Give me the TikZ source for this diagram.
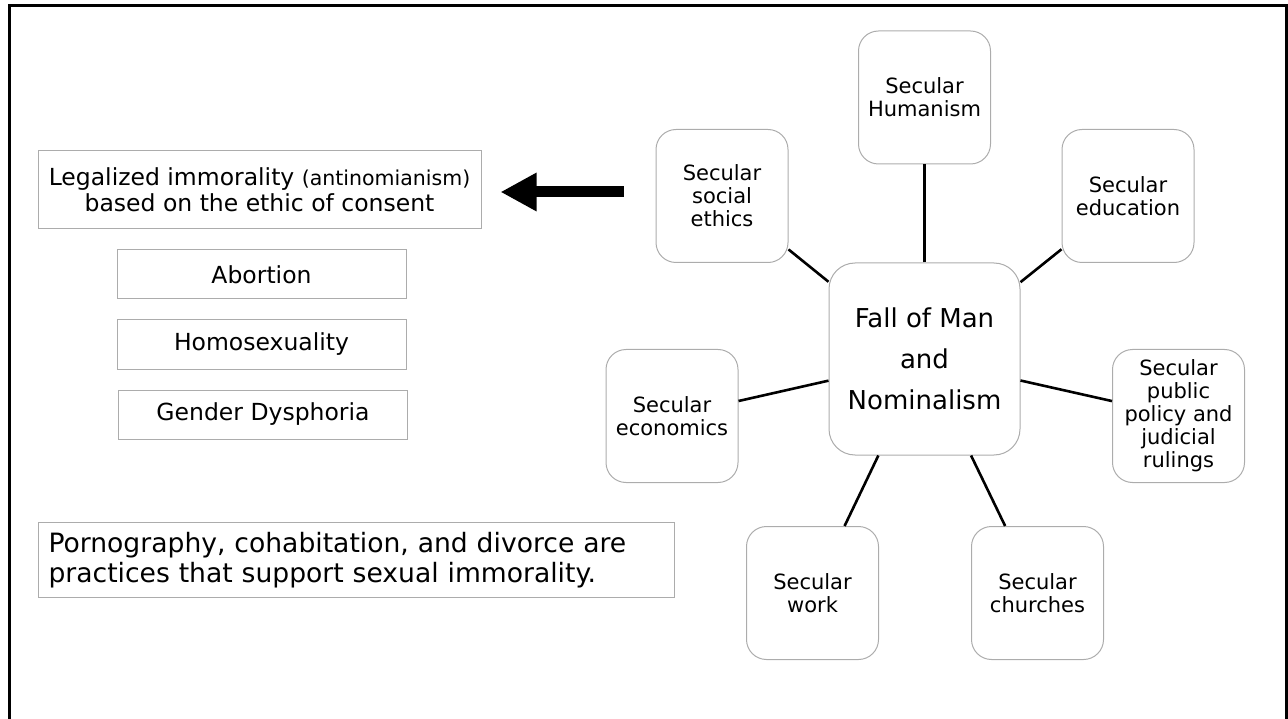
\documentclass[tikz,border=0pt]{standalone}
\usepackage{fontspec}
\setmainfont{DejaVu Sans}
\usetikzlibrary{arrows.meta,positioning}

\begin{document}
\begin{tikzpicture}[
    x=1pt, y=-1pt,
    issue/.style={draw=gray!65, line width=1pt, minimum width=289pt, minimum height=49pt, inner sep=0pt, align=center, font=\fontsize{23.5}{26}\selectfont},
    secular/.style={draw=gray!65, line width=1pt, rounded corners=20pt, minimum width=132pt, minimum height=133pt, inner sep=0pt, align=center, font=\fontsize{21}{23}\selectfont},
    link/.style={line width=2.6pt},
    bigarrow/.style={line width=11pt, -{Triangle[length=36pt,width=36pt]}}
]

\useasboundingbox (0,0) rectangle (1288,719);
% page frame, open at the bottom
\draw[line width=3pt] (9,719) -- (9,6) -- (1286,6) -- (1286,719);

% left column
\node[issue, minimum width=443pt, minimum height=78pt] (legal) at (259.5,190)
    {Legalized immorality {\fontsize{20.5}{26}\selectfont(antinomianism)}\\based on the ethic of consent};
\node[issue, below=20pt of legal, xshift=2pt] (abort) {Abortion};
\node[issue, below=20pt of abort] (homo) {Homosexuality};
\node[issue, below=20pt of homo, xshift=1.5pt] (gender) {Gender Dysphoria};

\node[draw=gray!65, line width=1pt, anchor=north west, minimum height=75pt, text width=616pt,
      inner xsep=10pt, inner ysep=0pt, align=left, font=\fontsize{26.6}{30}\selectfont] (porn) at (38,522)
    {Pornography, cohabitation, and divorce are\\practices that support sexual immorality.};

% the network
\node[secular, rounded corners=26pt, minimum width=191pt, minimum height=192pt,
      font=\fontsize{26}{41}\selectfont] (fall) at (924.5,359) {Fall of Man\\and\\Nominalism};

\node[secular] (hum)    at (924.5,97.5) {Secular\\Humanism};
\node[secular] (ethics) at (722,196)    {Secular\\social\\ethics};
\node[secular] (edu)    at (1128,196)   {Secular\\education};
\node[secular] (econ)   at (672,416)    {Secular\\economics};
\node[secular] (policy) at (1178.5,416) {Secular\\public\\policy and\\judicial\\rulings};
\node[secular] (work)   at (812.5,593)  {Secular\\work};
\node[secular] (church) at (1037.5,593) {Secular\\churches};

\draw[link] (fall) -- (hum);
\draw[link] (fall) -- (ethics);
\draw[link] (fall) -- (edu);
\draw[link] (fall) -- (econ);
\draw[link] (fall) -- (policy);
\draw[link] (fall) -- (work);
\draw[link] (fall) -- (church);

% big arrow towards the left column
\coordinate (tip) at ([xshift=19pt, yshift=-2pt]legal.east);
\coordinate (tail) at ([xshift=-32pt]ethics.west |- tip);
\draw[bigarrow] (tail) -- (tip);

\end{tikzpicture}
\end{document}
